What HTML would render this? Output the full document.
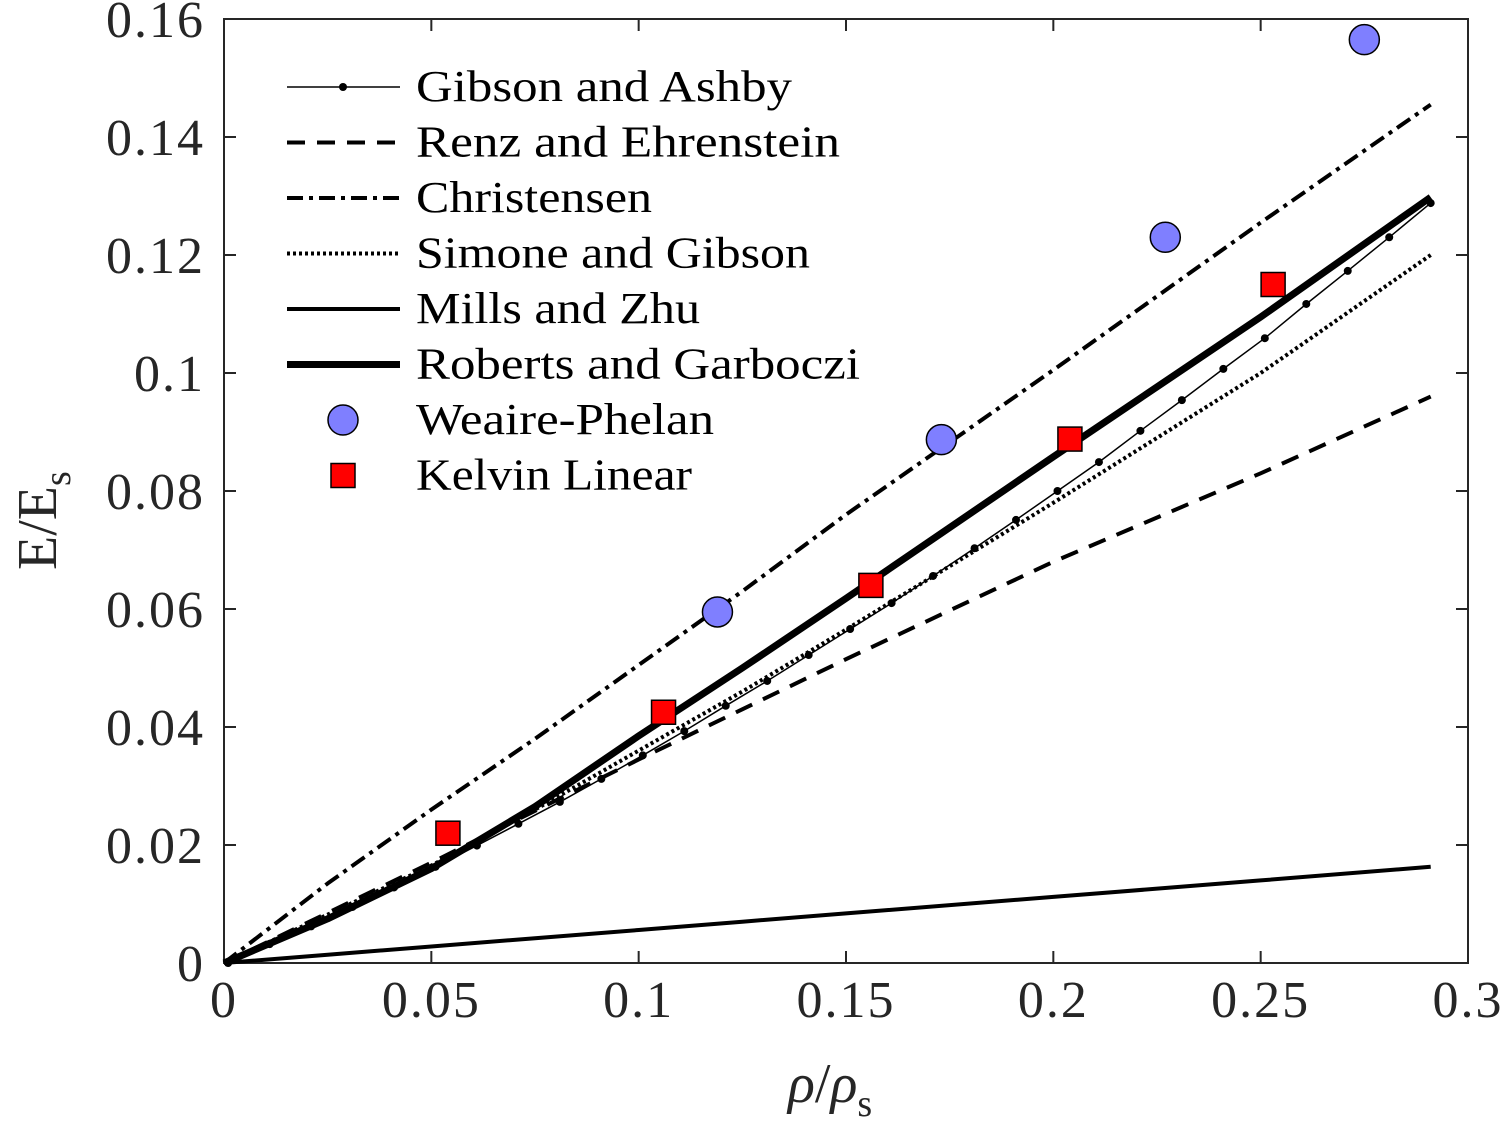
<!DOCTYPE html>
<html><head><meta charset="utf-8"><style>
html,body{margin:0;padding:0;background:#fff;}
svg{display:block;font-family:"Liberation Serif",serif;}
</style></head><body>
<svg id="chart" width="1508" height="1148" viewBox="0 0 1508 1148" xmlns="http://www.w3.org/2000/svg">
<rect x="0" y="0" width="1508" height="1148" fill="#fff"/>
<g id="plot"></g>
</svg>
<script>
const xTicks=[0,0.05,0.1,0.15,0.2,0.25,0.3];
const xTickLabels=["0","0.05","0.1","0.15","0.2","0.25","0.3"];
const yTicks=[0,0.02,0.04,0.06,0.08,0.1,0.12,0.14,0.16];
const yTickLabels=["0","0.02","0.04","0.06","0.08","0.1","0.12","0.14","0.16"];
const gaX=[0.001,0.011,0.021,0.031,0.041,0.051,0.061,0.071,0.081,0.091,0.101,0.111,0.121,0.131,0.141,0.151,0.161,0.171,0.181,0.191,0.201,0.211,0.221,0.231,0.241,0.251,0.261,0.271,0.281,0.291];
const gaY=[0,0.0032,0.0062,0.0095,0.0128,0.0163,0.0199,0.0236,0.0273,0.0312,0.0352,0.0393,0.0436,0.0478,0.0522,0.0566,0.061,0.0656,0.0703,0.0751,0.08,0.0849,0.0902,0.0954,0.1007,0.1059,0.1117,0.1173,0.123,0.1288];
const curveX=[0,0.025,0.05,0.075,0.1,0.125,0.15,0.2,0.25,0.291];
const renzY=[0,0.0085,0.017,0.0258,0.0345,0.043,0.0515,0.068,0.083,0.096];
const christY=[0,0.0135,0.026,0.038,0.0505,0.063,0.076,0.1005,0.1255,0.1455];
const simoneY=[0,0.0082,0.0165,0.026,0.036,0.046,0.0565,0.078,0.1,0.12];
const millsY=[0,0.0014,0.0028,0.0042,0.0056,0.007,0.0084,0.0112,0.014,0.0163];
const robertsY=[0,0.0075,0.016,0.0265,0.0385,0.05,0.0618,0.0858,0.1095,0.1298];
const wpX=[0.119,0.173,0.227,0.275];
const wpY=[0.0595,0.0887,0.123,0.1565];
const kelX=[0.054,0.106,0.156,0.204,0.253];
const kelY=[0.022,0.0425,0.064,0.0888,0.115];

const L=224,R=1468,T=19,B=963;
const sx=v=>L+(v/0.3)*(R-L);
const sy=v=>B-(v/0.16)*(B-T);
const NS="http://www.w3.org/2000/svg";
const g=document.getElementById('plot');
function mk(tag,attrs){const e=document.createElementNS(NS,tag);for(const k in attrs)e.setAttribute(k,attrs[k]);g.appendChild(e);return e;}
function pts(xs,ys){return xs.map((x,i)=>sx(x).toFixed(1)+','+sy(ys[i]).toFixed(1)).join(' ');}

let e=mk('rect',{x:L,y:T,width:R-L,height:B-T,fill:'none',stroke:'#262626','stroke-width':2});


xTicks.forEach((t,i)=>{
  let a=mk('line',{x1:sx(t),x2:sx(t),y1:B,y2:B-12,stroke:'#262626','stroke-width':2});
  
  
  let b=mk('line',{x1:sx(t),x2:sx(t),y1:T,y2:T+12,stroke:'#262626','stroke-width':2});
  
  
  let tx=mk('text',{x:sx(t),y:1017,'text-anchor':'middle','font-size':52,'letter-spacing':2,fill:'#262626'});
  tx.textContent=xTickLabels[i];
  
  
});
yTicks.forEach((t,i)=>{
  let a=mk('line',{x1:L,x2:L+12,y1:sy(t),y2:sy(t),stroke:'#262626','stroke-width':2});
  
  
  let b=mk('line',{x1:R,x2:R-12,y1:sy(t),y2:sy(t),stroke:'#262626','stroke-width':2});
  
  
  let tx=mk('text',{x:205,y:sy(t)+18,'text-anchor':'end','font-size':52,'letter-spacing':2,fill:'#262626'});
  tx.textContent=yTickLabels[i];
  
  
});

const series=[
 {n:'renz-line',x:curveX,y:renzY,w:4,d:'18,12'},
 {n:'christensen-line',x:curveX,y:christY,w:4,d:'16,6,4,6'},
 {n:'simone-line',x:curveX,y:simoneY,w:4,d:'3,3'},
 {n:'mills-line',x:curveX,y:millsY,w:4,d:''},
 {n:'roberts-line',x:curveX,y:robertsY,w:7,d:''},
 {n:'gibson-line',x:gaX,y:gaY,w:1.5,d:''}
];
series.forEach(s=>{
  let p=mk('polyline',{points:pts(s.x,s.y),fill:'none',stroke:'#000','stroke-width':s.w,'stroke-dasharray':s.d,'stroke-linejoin':'round'});
  
  
});
gaX.forEach((x,i)=>{
  let c=mk('circle',{cx:sx(x),cy:sy(gaY[i]),r:4,fill:'#000'});
  
  
});
kelX.forEach((x,i)=>{
  let r=mk('rect',{x:sx(x)-12,y:sy(kelY[i])-12,width:24,height:24,fill:'#f00',stroke:'#000','stroke-width':1.5});
  
  
});
wpX.forEach((x,i)=>{
  let c=mk('circle',{cx:sx(x),cy:sy(wpY[i]),r:15,fill:'#7f7fff',stroke:'#000','stroke-width':1.5});
  
  
});

const leg=[['Gibson and Ashby',1.5,'','dot',376],['Renz and Ehrenstein',4,'18,12','',424],['Christensen',4,'16,6,4,6','',236],['Simone and Gibson',4,'3,3','',394],['Mills and Zhu',4,'','',284],['Roberts and Garboczi',7,'','',444],['Weaire-Phelan',0,'','circle',298],['Kelvin Linear',0,'','square',276]];
leg.forEach((l,i)=>{
  const y=87+i*55.5;
  if(l[1]>0){
    let ln=mk('line',{x1:287,x2:400,y1:y,y2:y,stroke:'#000','stroke-width':l[1],'stroke-dasharray':l[2]});
    
    
  }
  if(l[3]==='dot'){let c=mk('circle',{cx:343,cy:y,r:4,fill:'#000'});}
  if(l[3]==='circle'){let c=mk('circle',{cx:343,cy:y,r:15,fill:'#7f7fff',stroke:'#000','stroke-width':1.5});}
  if(l[3]==='square'){let c=mk('rect',{x:331,y:y-12,width:24,height:24,fill:'#f00',stroke:'#000','stroke-width':1.5});}
  let t=mk('text',{x:416,y:y+14,'font-size':44,fill:'#000',textLength:l[4],lengthAdjust:'spacingAndGlyphs'});
  t.textContent=l[0];
  
  
});

let xt=mk('text',{x:788,y:1102,'font-size':56,fill:'#262626'});
xt.innerHTML='<tspan font-style="italic">ρ</tspan>/<tspan font-style="italic">ρ</tspan><tspan font-size="38" dy="14">s</tspan>';


let yt=mk('text',{x:0,y:0,'font-size':56,fill:'#262626',transform:'translate(56,570) rotate(-90)'});
yt.innerHTML='E/E<tspan font-size="38" dy="14">s</tspan>';


</script>
</body></html>
